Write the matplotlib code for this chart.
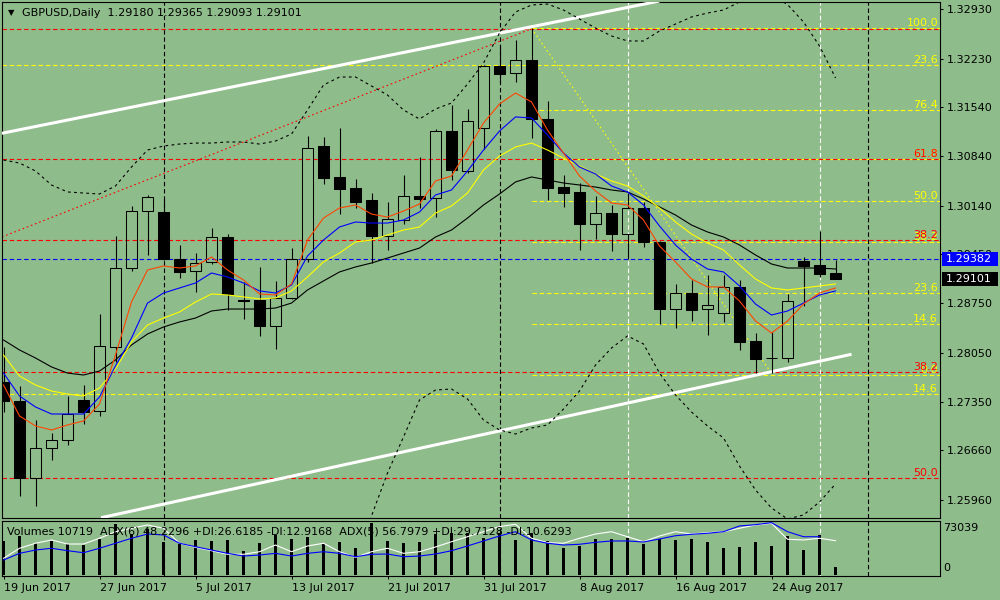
import numpy as np
import pandas as pd
import matplotlib
matplotlib.use("Agg")
import matplotlib.pyplot as plt
from matplotlib.patches import Rectangle
from matplotlib.transforms import blended_transform_factory

plt.rcParams['font.family'] = ['DejaVu Sans']

# ---------------- data ----------------
symbol = "GBPUSD,Daily"
dates = pd.bdate_range("2017-06-19", "2017-08-30")

open_ = [1.27629, 1.27367, 1.26273, 1.26691, 1.26804, 1.27377, 1.27216, 1.28135, 1.29249, 1.30059,
         1.30049, 1.29377, 1.29206, 1.29334, 1.29690, 1.28805, 1.28798, 1.28433, 1.28823, 1.29377,
         1.30987, 1.30547, 1.30390, 1.30220, 1.29712, 1.29931, 1.30277, 1.30244, 1.31196, 1.30636,
         1.31239, 1.32124, 1.32020, 1.32209, 1.31371, 1.30400, 1.30329, 1.29883, 1.30031, 1.29741,
         1.30102, 1.29618, 1.28675, 1.28894, 1.28666, 1.28618, 1.28979, 1.28211, 1.27981, 1.27978,
         1.29353, 1.29292, 1.29180]
high = [1.28130, 1.27576, 1.27093, 1.26912, 1.27434, 1.27590, 1.28599, 1.29708, 1.30134, 1.30291,
        1.30230, 1.29576, 1.29466, 1.29822, 1.29736, 1.29058, 1.29263, 1.29068, 1.29537, 1.31129,
        1.31115, 1.31239, 1.30518, 1.30315, 1.30191, 1.30571, 1.30831, 1.31229, 1.31570, 1.31513,
        1.32138, 1.32423, 1.32494, 1.32660, 1.31631, 1.30575, 1.30461, 1.30277, 1.30149, 1.30323,
        1.30191, 1.29630, 1.29022, 1.29083, 1.29149, 1.29149, 1.29083, 1.28325, 1.28348, 1.28879,
        1.29414, 1.29779, 1.29365]
low = [1.27206, 1.26017, 1.25875, 1.26529, 1.26742, 1.27036, 1.27154, 1.27913, 1.29215, 1.29438,
       1.29367, 1.29115, 1.28916, 1.29317, 1.28652, 1.28533, 1.28291, 1.28106, 1.28813, 1.29343,
       1.30451, 1.30025, 1.30102, 1.29320, 1.29509, 1.29874, 1.30102, 1.29982, 1.30500, 1.30603,
       1.30940, 1.31878, 1.31901, 1.31105, 1.30220, 1.30124, 1.29513, 1.29661, 1.29499, 1.29377,
       1.29556, 1.28457, 1.28405, 1.28500, 1.28301, 1.28490, 1.28088, 1.27765, 1.27757, 1.27921,
       1.28713, 1.29130, 1.29093]
close = [1.27367, 1.26273, 1.26691, 1.26804, 1.27174, 1.27211, 1.28140, 1.29249, 1.30059, 1.30258,
         1.29377, 1.29192, 1.29320, 1.29690, 1.28884, 1.28791, 1.28433, 1.28823, 1.29377, 1.30954,
         1.30537, 1.30380, 1.30191, 1.29712, 1.29945, 1.30272, 1.30238, 1.31196, 1.30642, 1.31338,
         1.32120, 1.32015, 1.32205, 1.31367, 1.30394, 1.30323, 1.29883, 1.30031, 1.29741, 1.30102,
         1.29618, 1.28675, 1.28894, 1.28660, 1.28723, 1.28979, 1.28206, 1.27964, 1.27967, 1.28780,
         1.29286, 1.29172, 1.29101]

ma_orange = [1.27590, 1.27150, 1.27008, 1.26951, 1.27022, 1.27079, 1.27320, 1.28017, 1.28770, 1.29225,
             1.29282, 1.29253, 1.29282, 1.29410, 1.29225, 1.29083, 1.28884, 1.28870, 1.29026, 1.29651,
             1.29963, 1.30106, 1.30149, 1.30020, 1.29977, 1.30063, 1.30163, 1.30490, 1.30561, 1.30930,
             1.31314, 1.31584, 1.31740, 1.31613, 1.31214, 1.30887, 1.30561, 1.30348, 1.30177, 1.30149,
             1.29935, 1.29566, 1.29339, 1.29097, 1.28984, 1.28984, 1.28784, 1.28500, 1.28329, 1.28500,
             1.28741, 1.28898, 1.28969]
ma_blue = [1.27760, 1.27434, 1.27278, 1.27178, 1.27178, 1.27178, 1.27420, 1.27861, 1.28258, 1.28755,
           1.28898, 1.28969, 1.29040, 1.29182, 1.29126, 1.29040, 1.28927, 1.28898, 1.29012, 1.29424,
           1.29651, 1.29836, 1.29907, 1.29892, 1.29892, 1.29935, 1.30049, 1.30291, 1.30362, 1.30632,
           1.30930, 1.31200, 1.31400, 1.31386, 1.31143, 1.30887, 1.30689, 1.30589, 1.30419, 1.30334,
           1.30149, 1.29850, 1.29580, 1.29381, 1.29239, 1.29197, 1.28998, 1.28741, 1.28585, 1.28642,
           1.28755, 1.28870, 1.28927]
ma_yellow = [1.28017, 1.27718, 1.27590, 1.27505, 1.27462, 1.27434, 1.27547, 1.27818, 1.28202, 1.28443,
             1.28542, 1.28628, 1.28770, 1.28884, 1.28870, 1.28842, 1.28813, 1.28827, 1.28927, 1.29126,
             1.29339, 1.29466, 1.29623, 1.29651, 1.29722, 1.29793, 1.29836, 1.30034, 1.30135, 1.30319,
             1.30646, 1.30845, 1.30973, 1.31029, 1.30930, 1.30816, 1.30703, 1.30589, 1.30490, 1.30419,
             1.30277, 1.30106, 1.29907, 1.29736, 1.29608, 1.29509, 1.29296, 1.29097, 1.28969, 1.28941,
             1.28969, 1.28998, 1.29026]
ma_black = [1.28230, 1.28088, 1.27974, 1.27847, 1.27760, 1.27732, 1.27789, 1.27946, 1.28159, 1.28315,
            1.28415, 1.28486, 1.28542, 1.28642, 1.28670, 1.28670, 1.28670, 1.28684, 1.28755, 1.28941,
            1.29069, 1.29197, 1.29268, 1.29324, 1.29395, 1.29466, 1.29537, 1.29694, 1.29793, 1.29963,
            1.30149, 1.30305, 1.30476, 1.30547, 1.30504, 1.30461, 1.30433, 1.30404, 1.30362, 1.30334,
            1.30234, 1.30121, 1.30006, 1.29864, 1.29765, 1.29694, 1.29580, 1.29438, 1.29310, 1.29253,
            1.29253, 1.29253, 1.29239]
bb_upper = [1.30788, 1.30745, 1.30632, 1.30433, 1.30334, 1.30319, 1.30305, 1.30419, 1.30689, 1.30930,
            1.30987, 1.31015, 1.31029, 1.31029, 1.31044, 1.31044, 1.31015, 1.31058, 1.31157, 1.31499,
            1.31854, 1.31968, 1.31968, 1.31840, 1.31712, 1.31499, 1.31371, 1.31513, 1.31598, 1.31868,
            1.32167, 1.32593, 1.32892, 1.32991, 1.33005, 1.32920, 1.32792, 1.32664, 1.32551, 1.32480,
            1.32480, 1.32622, 1.32721, 1.32821, 1.32877, 1.32920, 1.33034, 1.33133, 1.33133, 1.32998,
            1.32750, 1.32409, 1.31954]
bb_lower = [1.25316, 1.25103, 1.24890, 1.24748, 1.24676, 1.24676, 1.24705, 1.24748, 1.24819, 1.24890,
            1.24932, 1.24961, 1.24961, 1.24961, 1.24961, 1.24961, 1.24961, 1.24989, 1.25018, 1.24961,
            1.24847, 1.24890, 1.25061, 1.25729, 1.26340, 1.26852, 1.27377, 1.27519, 1.27533, 1.27391,
            1.27093, 1.26951, 1.26894, 1.26979, 1.27022, 1.27249, 1.27505, 1.27874, 1.28116, 1.28287,
            1.28173, 1.27760, 1.27448, 1.27207, 1.27008, 1.26837, 1.26439, 1.26098, 1.25842, 1.25686,
            1.25743, 1.25928, 1.26183]

volume = [45990, 52750, 42880, 46390, 41520, 40580, 49100, 68980, 55460, 61810,
          45040, 41930, 47340, 45990, 47340, 32460, 42880, 54100, 48290, 51800,
          41520, 45040, 36110, 69930, 45990, 42880, 44230, 55460, 56400, 56400,
          49640, 57210, 47340, 56400, 45990, 36930, 39230, 48290, 48290, 50450,
          41520, 48290, 47340, 49100, 45040, 36930, 38280, 44640, 39230, 52750,
          33820, 53700, 10719]
adx6 = [24.7, 39.6, 47.0, 51.9, 45.9, 45.9, 54.4, 64.1, 69.2, 74.1,
        69.2, 47.0, 41.0, 36.0, 30.7, 30.7, 34.5, 44.4, 34.5, 43.0,
        47.0, 34.5, 26.2, 34.5, 39.6, 32.1, 34.5, 41.5, 49.3, 56.7,
        64.1, 71.6, 75.1, 54.4, 47.9, 47.0, 54.4, 60.7, 64.1, 56.7,
        49.3, 57.8, 64.1, 60.7, 62.7, 64.1, 69.2, 74.1, 76.6, 52.9,
        51.9, 54.4, 50.8]
adx5 = [22.2, 32.1, 37.0, 39.6, 36.0, 33.0, 39.6, 47.0, 54.4, 60.7,
        59.3, 47.0, 41.9, 37.0, 32.1, 28.1, 29.6, 32.1, 28.1, 32.1,
        34.5, 32.1, 27.1, 30.7, 31.1, 27.1, 28.1, 31.1, 36.0, 43.0,
        50.4, 57.8, 64.1, 51.9, 47.0, 44.4, 45.5, 48.4, 50.4, 50.4,
        48.9, 53.3, 58.2, 60.3, 61.8, 64.1, 72.6, 74.5, 77.5, 64.1,
        56.7, 56.7, np.nan]
adx_info = "ADX(6) 48.2296 +DI:26.6185 -DI:12.9168  ADX(5) 56.7979 +DI:29.7128 -DI:10.6293"

price_ticks = [1.32930, 1.32230, 1.31540, 1.30840, 1.30140, 1.29450,
               1.28750, 1.28050, 1.27350, 1.26660, 1.25960]
vol_max_label = 73039
hline_blue = 1.29382

fib_y_levels = [100.0, 76.4, 61.8, 50.0, 38.2, 23.6, 14.6, 0.0]
fib_y_prices = [1.32660, 1.31499, 1.30807, 1.30205, 1.29618, 1.28894, 1.28457, 1.27732]
fib_y_start = 33
yellow_full_levels = [23.6, 14.6]
yellow_full_prices = [1.32138, 1.27458]
red_levels = [None, 61.8, 38.2, 38.2, 50.0]
red_prices = [1.32654, 1.30798, 1.29647, 1.27771, 1.26264]

red_diag_x, red_diag_p = [-0.1, 33], [1.29694, 1.32653]
yel_diag_x, yel_diag_p = [33, 48], [1.32660, 1.27757]
chan_up_x, chan_up_p = [-0.1, 41], [1.31168, 1.33048]
chan_lo_x, chan_lo_p = [6.1, 53.0], [1.25704, 1.28027]

vlines_black = [10, 31, 54]
vlines_white = [39, 51]

# ---------------- layout ----------------
BG = '#8fbc8b'
W, H = 1000, 600
def fx(px): return px / W
def fy(py): return 1 - py / H

fig = plt.figure(figsize=(10, 6), dpi=100, facecolor=BG)
ax = fig.add_axes([fx(2), fy(518.3), fx(940) - fx(2), fy(2) - fy(518.3)], facecolor=BG)
axv = fig.add_axes([fx(2), fy(575.7), fx(940) - fx(2), fy(520.7) - fy(575.7)], facecolor=BG)

n = len(close)
x = np.arange(n)
XL = (-0.094, 58.53)
ax.set_xlim(*XL)
ax.set_ylim(1.256956, 1.330338)

for a in (ax, axv):
    for s in a.spines.values():
        s.set_linewidth(0.8)
        s.set_color('black')

ax.yaxis.tick_right()
ax.set_yticks(price_ticks)
ax.set_yticklabels([f'{v:.5f}' for v in price_ticks], fontsize=8)
ax.tick_params(axis='y', direction='out', length=2.5, width=0.75, pad=2.5, colors='black')
ax.set_xticks([])

dash = (0, (4, 2.5))
lab_tr = blended_transform_factory(ax.transAxes, ax.transData)
lab_x = (938 - 2) / 938

# horizontal levels
for lv, p in zip(yellow_full_levels, yellow_full_prices):
    ax.axhline(p, color='#ffff00', lw=0.8, ls=dash, zorder=1)
    ax.text(lab_x, p, f'{lv:.1f}', transform=lab_tr, ha='right', va='bottom',
            color='#ffff00', fontsize=8, zorder=6)
for lv, p in zip(fib_y_levels, fib_y_prices):
    ax.hlines(p, fib_y_start, XL[1], color='#ffff00', lw=0.8, ls=dash, zorder=1)
    ax.text(lab_x, p, f'{lv:.1f}', transform=lab_tr, ha='right', va='bottom',
            color='#ffff00', fontsize=8, zorder=6)
for lv, p in zip(red_levels, red_prices):
    ax.axhline(p, color='#ff0000', lw=0.8, ls=dash, zorder=1)
    if lv is not None:
        ax.text(lab_x, p, f'{lv:.1f}', transform=lab_tr, ha='right', va='bottom',
                color='#ff0000', fontsize=8, zorder=6)
ax.axhline(hline_blue, color='#0000ff', lw=0.8, ls=dash, zorder=1)

# vertical lines
for a in (ax, axv):
    for v in vlines_black:
        a.axvline(v, color='black', lw=0.8, ls=dash, zorder=1.5)
    for v in vlines_white:
        a.axvline(v, color='white', lw=0.8, ls=dash, zorder=1.5)

# diagonal fib baselines and channel
ax.plot(red_diag_x, red_diag_p, color='#ff0000', lw=0.8, ls=(0, (1.5, 2.5)), zorder=2)
ax.plot(yel_diag_x, yel_diag_p, color='#ffff00', lw=0.8, ls=(0, (1.5, 2.5)), zorder=2)
ax.plot(chan_up_x, chan_up_p, color='white', lw=2.2, zorder=3, solid_capstyle='butt')
ax.plot(chan_lo_x, chan_lo_p, color='white', lw=2.2, zorder=3, solid_capstyle='butt')

# candles
CW = 0.645
for i in range(n):
    o, h, l, c = open_[i], high[i], low[i], close[i]
    top, bot = max(o, c), min(o, c)
    bull = c > o
    ax.vlines(i, top, h, color='black', lw=0.8, zorder=4)
    ax.vlines(i, l, bot, color='black', lw=0.8, zorder=4)
    ax.add_patch(Rectangle((i - CW / 2, bot), CW, max(top - bot, 1e-6),
                           facecolor='none' if bull else 'black',
                           edgecolor='black', lw=0.75, zorder=4))

# indicators
ax.plot(x, bb_upper, color='black', lw=0.8, ls=(0, (2.5, 3)), zorder=5)
ax.plot(x, bb_lower, color='black', lw=0.8, ls=(0, (2.5, 3)), zorder=5)
ax.plot(x, ma_black, color='black', lw=0.8, zorder=5)
ax.plot(x, ma_yellow, color='#ffff00', lw=0.8, zorder=5)
ax.plot(x, ma_blue, color='#0000ff', lw=0.8, zorder=5)
ax.plot(x, ma_orange, color='#ff4500', lw=0.8, zorder=5)

# volume panel
axv.set_xlim(*XL)
axv.set_ylim(-947, 73446)
axv.bar(x, volume, width=0.19, color='black', zorder=3)
axv.set_yticks([])
tick_idx = x[::6]
axv.set_xticks(tick_idx)
axv.set_xticklabels([f"{d.day} {d.strftime('%b')} {d.year}" for d in dates[::6]],
                    fontsize=8, ha='left')
axv.tick_params(axis='x', direction='out', length=2.5, width=0.75, pad=2.5)

axa = axv.twinx()
axa.set_ylim(-1.0, 80.4)
axa.set_yticks([])
axa.patch.set_visible(False)
for s in axa.spines.values():
    s.set_visible(False)
axa.plot(x, adx6, color='white', lw=0.8, zorder=4)
axa.plot(x, adx5, color='#0000ff', lw=0.8, zorder=4)

# texts
fig.text(fx(11), fy(12.5), '\u25bc', fontsize=6, ha='center', va='center')
fig.text(fx(22), fy(13),
         f"{symbol}  {open_[-1]:.5f} {high[-1]:.5f} {low[-1]:.5f} {close[-1]:.5f}",
         fontsize=8, ha='left', va='center')
fig.text(fx(7), fy(532), f"Volumes {volume[-1]}  {adx_info}",
         fontsize=8, ha='left', va='center', zorder=12)
fig.text(fx(943), fy(528), f"{vol_max_label}", fontsize=8, ha='left', va='center')
fig.text(fx(943), fy(568), "0", fontsize=8, ha='left', va='center')

# price boxes on the right axis
def price_box(price, color):
    yd = ax.transData.transform((0, price))[1]
    yc = yd / fig.bbox.height
    h = 14 / H
    fig.add_artist(Rectangle((fx(941.7), yc - h / 2), fx(998.3) - fx(941.7), h,
                             transform=fig.transFigure, facecolor=color,
                             edgecolor='none', zorder=10))
    fig.text(fx(946), yc, f'{price:.5f}', color='white', fontsize=8,
             ha='left', va='center', zorder=11)

price_box(hline_blue, '#0000ff')
price_box(close[-1], 'black')

fig.savefig('out.png', dpi=100, facecolor=BG)
